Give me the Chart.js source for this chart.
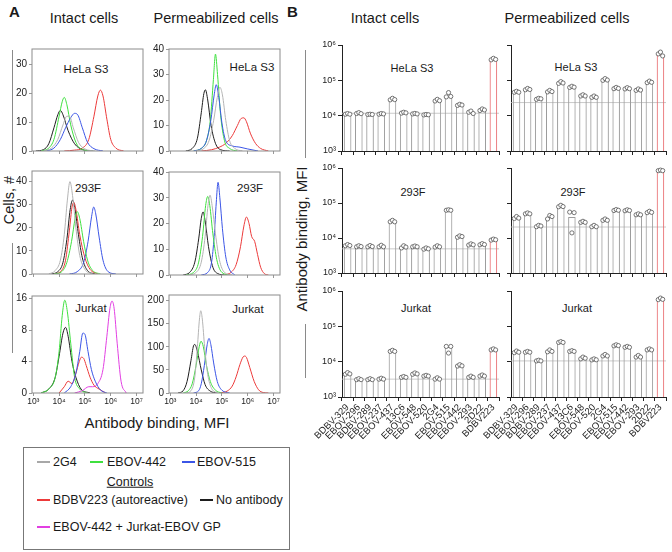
<!DOCTYPE html>
<html>
<head>
<meta charset="utf-8">
<script src="https://cdn.jsdelivr.net/npm/chart.js@4.4.1/dist/chart.umd.min.js"></script>
<style>
body { margin: 0; width: 672px; height: 552px; position: relative; background: #fff; overflow: hidden;
       font-family: "Liberation Sans", Arial, sans-serif; color: #1a1a1a; }
.t { position: absolute; white-space: nowrap; line-height: 1; }
.cc { transform: translate(-50%, -50%); }
.cy { transform: translateY(-50%); }
.rot { transform: translate(-50%, -50%) rotate(-90deg); }
.box { position: absolute; }
.vl { position: absolute; width: 1px; background: #8a8a8a; }
.sw { position: absolute; width: 13px; height: 2px; }
</style>
</head>
<body>

<div class="t" style="left:9px;top:4px;font-size:15px;font-weight:bold">A</div>
<div class="t cc" style="left:84px;top:18px;font-size:14.5px">Intact cells</div>
<div class="t cc" style="left:216px;top:18px;font-size:14.5px">Permeabilized cells</div>
<div class="t" style="left:287px;top:4px;font-size:15px;font-weight:bold">B</div>
<div class="t cc" style="left:385px;top:18px;font-size:14.5px">Intact cells</div>
<div class="t cc" style="left:567px;top:18px;font-size:14.5px">Permeabilized cells</div>

<div class="vl" style="left:12px;top:50px;height:110px"></div>
<div class="vl" style="left:12px;top:243px;height:110px"></div>
<div class="t rot" style="left:9px;top:200px;font-size:14.5px">Cells, #</div>
<div class="t cc" style="left:157px;top:422px;font-size:15px">Antibody binding, MFI</div>

<div class="vl" style="left:305px;top:50px;height:108px"></div>
<div class="vl" style="left:305px;top:324px;height:54px"></div>
<div class="t rot" style="left:301px;top:239px;font-size:15px">Antibody binding, MFI</div>

<div class="t cc" style="left:86px;top:70px;font-size:11.5px">HeLa S3</div>
<div class="t cc" style="left:252px;top:68px;font-size:11.5px">HeLa S3</div>
<div class="t cc" style="left:88px;top:189px;font-size:11.5px">293F</div>
<div class="t cc" style="left:250px;top:189px;font-size:11.5px">293F</div>
<div class="t cc" style="left:91px;top:309px;font-size:11.5px">Jurkat</div>
<div class="t cc" style="left:248px;top:310px;font-size:11.5px">Jurkat</div>

<div class="t cc" style="left:412px;top:68px;font-size:11px">HeLa S3</div>
<div class="t cc" style="left:576px;top:67px;font-size:11px">HeLa S3</div>
<div class="t cc" style="left:413px;top:192px;font-size:11px">293F</div>
<div class="t cc" style="left:573px;top:192px;font-size:11px">293F</div>
<div class="t cc" style="left:416px;top:308px;font-size:11px">Jurkat</div>
<div class="t cc" style="left:577px;top:308px;font-size:11px">Jurkat</div>

<div style="position:absolute;left:23px;top:447px;width:267px;height:103px;border:1px solid #777;box-sizing:border-box"></div>
<div class="sw" style="left:37px;top:461px;background:#a8a8a8"></div>
<div class="t cy" style="left:53px;top:462px;font-size:12.5px">2G4</div>
<div class="sw" style="left:90px;top:461px;background:#3fe03f"></div>
<div class="t cy" style="left:107px;top:462px;font-size:12.5px">EBOV-442</div>
<div class="sw" style="left:182px;top:461px;background:#3b55e6"></div>
<div class="t cy" style="left:197px;top:462px;font-size:12.5px">EBOV-515</div>
<div class="t cc" style="left:130px;top:482px;font-size:12.5px;text-decoration:underline">Controls</div>
<div class="sw" style="left:37px;top:499px;background:#ec3a3a"></div>
<div class="t cy" style="left:53px;top:500px;font-size:12.5px">BDBV223 (autoreactive)</div>
<div class="sw" style="left:200px;top:499px;background:#1e1e1e"></div>
<div class="t cy" style="left:216px;top:500px;font-size:12.5px">No antibody</div>
<div class="sw" style="left:37px;top:526px;background:#e23fe2"></div>
<div class="t cy" style="left:53px;top:527px;font-size:12.5px">EBOV-442 + Jurkat-EBOV GP</div>

<script>
// Etiquetas y ticks
const antibodies = ['BDBV-329', 'EBOV-296', 'BDBV-289', 'EBOV-237', 'EBOV-437', '13C6', 'EBOV-548',
    'EBOV-520', '2G4', 'EBOV-515', 'EBOV-442', 'EBOV-293', '2D22', 'BDBV223'];
const decadeTicks = [3, 4, 5, 6, 7];          // log10 MFI
const mfiTicks = [1e3, 1e4, 1e5, 1e6];
const histRange = [2.95, 7.25];              // log10 MFI shown on histogram axes

// Histogramas: [log10 MFI, células]
const helaIntactNoAb = [[3.1,0],[3.4,0.5],[3.6,2.5],[3.8,8],[3.95,12.5],[4.05,14],[4.15,12.5],[4.35,7],[4.6,2.5],[4.9,0.5],[5.3,0]];
const helaIntact442 = [[3.3,0],[3.6,1],[3.8,4],[4.0,12],[4.12,17],[4.2,18.5],[4.3,16],[4.45,9],[4.65,3],[4.9,0.5],[5.3,0]];
const helaIntact2G4 = [[3.4,0],[3.7,1],[3.95,4],[4.15,9],[4.3,12],[4.4,12],[4.55,8],[4.75,3],[5.0,0.7],[5.4,0]];
const helaIntact515 = [[3.5,0],[3.8,1],[4.05,4],[4.25,8],[4.45,11.5],[4.6,13],[4.72,12.5],[4.9,8],[5.1,3],[5.35,0.8],[5.7,0]];
const helaIntact223 = [[4.2,0],[4.6,0.3],[4.9,1],[5.15,4],[5.35,12],[5.5,19],[5.6,21],[5.7,19],[5.85,11],[6.0,4],[6.2,1],[6.5,0]];

const f293Intact2G4 = [[3.6,0],[3.85,1.5],[4.05,6],[4.2,17],[4.32,32],[4.42,40],[4.52,34],[4.65,20],[4.8,8],[5.0,2],[5.3,0]];
const f293IntactNoAb = [[3.7,0],[3.95,1],[4.15,5],[4.3,15],[4.43,28],[4.52,32],[4.62,28],[4.75,17],[4.9,7],[5.1,1.5],[5.4,0]];
const f293Intact223 = [[3.8,0],[4.05,1],[4.25,6],[4.4,19],[4.5,29],[4.57,31],[4.65,28],[4.8,17],[5.0,7],[5.2,2],[5.5,0]];
const f293Intact442 = [[3.8,0],[4.1,1],[4.3,5],[4.48,14],[4.62,24],[4.7,27],[4.8,24],[4.95,14],[5.1,6],[5.3,1.5],[5.6,0]];
const f293Intact515 = [[4.4,0],[4.7,1],[4.95,5],[5.12,14],[5.26,25],[5.34,29],[5.42,26],[5.55,16],[5.7,6],[5.9,1],[6.2,0]];

const jurkatIntact442 = [[3.3,0],[3.6,0.5],[3.85,2],[4.0,5],[4.12,11],[4.22,15.5],[4.32,12],[4.45,6],[4.6,2],[4.8,0.5],[5.1,0]];
const jurkatIntactNoAb = [[3.3,0],[3.6,0.5],[3.85,2],[4.0,4.5],[4.15,7.5],[4.25,8.5],[4.35,7],[4.5,4],[4.65,2],[4.85,0.5],[5.2,0]];
const jurkatIntact515 = [[4.2,0],[4.45,0.8],[4.65,2.5],[4.8,5],[4.92,7.5],[5.0,7.3],[5.12,5],[5.25,3],[5.4,1.5],[5.6,0.4],[5.85,0]];
const jurkatIntact223 = [[4.0,0],[4.2,0.8],[4.35,1.5],[4.5,1.2],[4.65,2.5],[4.78,4],[4.86,4.4],[4.95,4.3],[5.05,3.5],[5.2,2],[5.35,1],[5.55,0.5],[5.8,0]];
const jurkatIntactGP = [[4.6,0],[4.9,0.3],[5.15,0.8],[5.3,0.8],[5.5,1.2],[5.7,3],[5.85,7],[5.97,13],[6.05,15.2],[6.13,13],[6.25,6],[6.4,1.5],[6.6,0]];

const helaPermNoAb = [[3.6,0],[3.85,1],[4.05,5],[4.2,15],[4.3,22.5],[4.36,24],[4.45,20],[4.58,10],[4.75,3],[4.95,0.5],[5.3,0]];
const helaPerm442 = [[3.9,0],[4.2,1],[4.4,4],[4.55,12],[4.67,28],[4.75,38],[4.83,30],[4.95,14],[5.1,4],[5.3,1],[5.6,0]];
const helaPerm515 = [[3.9,0],[4.2,1],[4.4,4],[4.57,12],[4.7,22],[4.78,26],[4.88,21],[5.0,11],[5.15,4],[5.4,2],[5.7,1.5],[6.0,0.8],[6.4,0]];
const helaPerm2G4 = [[4.0,0],[4.3,1],[4.5,4],[4.68,12],[4.82,21],[4.92,25],[5.02,22],[5.15,12],[5.3,4],[5.5,1],[5.8,0]];
const helaPerm223 = [[4.2,0],[4.6,0.5],[4.9,1.5],[5.15,3],[5.4,6],[5.6,10],[5.75,12.8],[5.85,13],[5.95,11.5],[6.1,7],[6.3,3],[6.5,1],[6.8,0]];

const f293PermNoAb = [[3.5,0],[3.75,1],[3.95,5],[4.1,14],[4.2,22],[4.27,24.5],[4.35,21],[4.48,11],[4.65,3],[4.85,0.5],[5.1,0]];
const f293Perm442 = [[3.6,0],[3.9,1],[4.1,5],[4.25,15],[4.37,27],[4.45,30.5],[4.53,27],[4.65,16],[4.8,6],[5.0,1],[5.3,0]];
const f293Perm2G4 = [[3.7,0],[4.0,1],[4.2,5],[4.35,15],[4.46,27],[4.54,31],[4.62,27],[4.75,16],[4.9,6],[5.1,1],[5.4,0]];
const f293Perm515 = [[4.2,0],[4.45,1],[4.6,5],[4.7,15],[4.78,28],[4.85,36],[4.92,30],[5.02,18],[5.15,7],[5.3,2],[5.5,0]];
const f293Perm223 = [[5.1,0],[5.35,1],[5.55,4],[5.72,11],[5.85,19],[5.95,22.5],[6.05,20],[6.15,15],[6.27,13],[6.38,8],[6.5,3],[6.65,0.5],[6.8,0]];

const jurkatPermNoAb = [[3.3,0],[3.5,5],[3.65,25],[3.8,70],[3.9,102],[3.95,105],[4.05,90],[4.2,50],[4.35,18],[4.55,4],[4.8,0]];
const jurkatPerm442 = [[3.5,0],[3.7,5],[3.85,20],[4.0,60],[4.12,100],[4.19,112],[4.28,100],[4.4,60],[4.55,25],[4.75,6],[5.0,0]];
const jurkatPerm2G4 = [[3.6,0],[3.8,5],[3.95,35],[4.05,100],[4.13,160],[4.18,178],[4.24,160],[4.33,100],[4.45,40],[4.6,10],[4.85,0]];
const jurkatPerm515 = [[3.9,0],[4.1,5],[4.2,20],[4.32,60],[4.43,105],[4.5,118],[4.57,105],[4.68,65],[4.82,25],[5.0,6],[5.3,0]];
const jurkatPerm223 = [[4.9,0],[5.2,4],[5.4,15],[5.55,35],[5.7,62],[5.82,78],[5.88,80],[5.95,77],[6.08,55],[6.25,25],[6.42,7],[6.6,1],[6.8,0]];

// Barras: MFI media por anticuerpo
const helaIntactMfi = [1.12e4, 1.16e4, 1.1e4, 1.12e4, 2.9e4, 1.2e4, 1.14e4, 1.07e4, 2.7e4, 3.6e4, 2.0e4, 1.3e4, 1.45e4, 3.9e5];
const helaPermMfi = [4.7e4, 5.6e4, 3.0e4, 4.9e4, 8.5e4, 6.5e4, 3.7e4, 3.4e4, 1.05e5, 6.0e4, 5.9e4, 5.4e4, 8.9e4, 5.4e5];
const f293IntactMfi = [6.2e3, 5.8e3, 5.8e3, 5.8e3, 3.0e4, 5.6e3, 5.7e3, 5.0e3, 5.7e3, 6.3e4, 1.1e4, 6.5e3, 6.6e3, 9.0e3];
const f293PermMfi = [3.8e4, 5.0e4, 2.2e4, 4.0e4, 8.1e4, 4.0e4, 2.9e4, 2.2e4, 3.3e4, 6.3e4, 6.2e4, 4.7e4, 5.5e4, 8.5e5];
const jurkatIntactMfi = [4.6e3, 3.2e3, 3.2e3, 3.3e3, 2.0e4, 3.7e3, 4.6e3, 4.0e3, 3.3e3, 2.6e4, 7.8e3, 3.7e3, 4.0e3, 2.2e4];
const jurkatPermMfi = [1.9e4, 1.9e4, 1.07e4, 2.0e4, 3.6e4, 2.0e4, 1.27e4, 1.15e4, 1.5e4, 2.9e4, 2.6e4, 1.4e4, 2.2e4, 5.9e5];

// Réplicas (tres por anticuerpo)
const helaIntactReps = [[1.1e4,1.15e4,1.1e4],[1.15e4,1.22e4,1.14e4],[1.08e4,1.1e4,1.08e4],[1.1e4,1.15e4,1.12e4],[2.8e4,3.1e4,2.85e4],[1.18e4,1.25e4,1.2e4],[1.12e4,1.16e4,1.12e4],
    [1.05e4,1.08e4,1.06e4],[2.6e4,2.9e4,2.65e4],[3.4e4,4.5e4,3.5e4],[1.95e4,2.1e4,2.0e4],[1.25e4,1.35e4,1.15e4],[1.4e4,1.55e4,1.45e4],[3.8e5,4.2e5,3.9e5]];
const helaPermReps = [[4.6e4,4.9e4,4.6e4],[5.4e4,5.9e4,5.5e4],[2.9e4,3.1e4,3.0e4],[4.7e4,5.2e4,4.8e4],[8.2e4,9.2e4,8.4e4],[6.3e4,6.8e4,6.4e4],[3.6e4,3.9e4,3.6e4],
    [3.3e4,3.6e4,3.3e4],[1.0e5,1.12e5,1.02e5],[5.8e4,6.3e4,5.9e4],[5.7e4,6.2e4,5.8e4],[5.2e4,5.7e4,5.3e4],[8.6e4,9.5e4,8.8e4],[5.6e5,6.3e5,4.9e5]];
const f293IntactReps = [[6.0e3,6.5e3,6.1e3],[5.6e3,6.0e3,5.7e3],[5.6e3,6.1e3,5.7e3],[5.6e3,6.2e3,5.6e3],[2.9e4,3.2e4,2.9e4],[5.2e3,6.0e3,5.5e3],[5.6e3,5.9e3,5.6e3],
    [4.8e3,5.2e3,4.9e3],[5.5e3,6.0e3,5.6e3],[6.2e4,6.4e4,6.2e4],[1.05e4,1.15e4,1.1e4],[6.3e3,6.8e3,6.4e3],[6.4e3,6.9e3,6.5e3],[8.7e3,9.3e3,8.9e3]];
const f293PermReps = [[3.6e4,4.1e4,3.7e4],[4.9e4,5.2e4,4.9e4],[2.1e4,2.3e4,2.2e4],[3.5e4,4.4e4,4.1e4],[7.8e4,8.6e4,7.9e4],[5.5e4,1.4e4,5.3e4],[2.8e4,3.0e4,2.8e4],
    [2.1e4,2.3e4,2.1e4],[3.2e4,3.5e4,3.2e4],[6.1e4,6.5e4,6.2e4],[6.0e4,6.4e4,6.1e4],[4.6e4,4.9e4,4.6e4],[5.3e4,5.8e4,5.4e4],[8.4e5,8.7e5,8.4e5]];
const jurkatIntactReps = [[4.4e3,4.9e3,4.5e3],[3.1e3,3.3e3,3.1e3],[3.1e3,3.3e3,3.1e3],[3.2e3,3.4e3,3.2e3],[1.95e4,2.1e4,1.95e4],[3.6e3,3.8e3,3.6e3],[4.4e3,4.8e3,4.5e3],
    [3.9e3,4.1e3,3.9e3],[3.2e3,3.5e3,3.2e3],[2.7e4,1.75e4,2.7e4],[7.5e3,8.2e3,7.6e3],[3.6e3,3.9e3,3.6e3],[3.9e3,4.2e3,3.9e3],[2.15e4,2.3e4,2.15e4]];
const jurkatPermReps = [[1.8e4,2.0e4,1.85e4],[1.85e4,1.95e4,1.85e4],[1.05e4,1.1e4,1.05e4],[1.9e4,2.15e4,1.95e4],[3.5e4,3.7e4,3.5e4],[1.95e4,2.05e4,1.95e4],[1.2e4,1.35e4,1.25e4],
    [1.12e4,1.2e4,1.13e4],[1.45e4,1.6e4,1.45e4],[2.8e4,3.0e4,2.85e4],[2.55e4,2.7e4,2.55e4],[1.35e4,1.5e4,1.35e4],[2.15e4,2.3e4,2.15e4],[5.7e5,6.3e5,5.8e5]];

// Línea de referencia horizontal de cada panel
const helaIntactRef = 1.17e4, helaPermRef = 2.35e4;
const f293IntactRef = 4.9e3, f293PermRef = 2.06e4;
const jurkatIntactRef = 3.2e3, jurkatPermRef = 1.05e4;

// Colores
const colNoAb = '#1e1e1e', col2G4 = '#b4b4b4', col442 = '#3fe03f', col515 = '#3b55e6', col223 = '#ec3a3a', colGP = '#e23fe2';
const barGray = '#9c9c9c', barRed = '#e8676b';

const sup = ['⁰', '¹', '²', '³', '⁴', '⁵', '⁶', '⁷'];
const dotShift = [-0.2, 0, 0.2];
const PT = 8, PR = 8;

Chart.defaults.font.family = '"Liberation Sans", Arial, sans-serif';
Chart.defaults.color = '#222';

// Escala 0-4 lineal y log2 por encima (eje de Jurkat intactas)
class PieceScale extends Chart.LinearScale {
    static id = 'piece';
    static defaults = Chart.LinearScale.defaults;
    tf(v) { return v <= 4 ? v / 4 : 1 + Math.log2(v / 4); }
    getPixelForValue(v) {
        return this.getPixelForDecimal((this.tf(v) - this.tf(this.min)) / (this.tf(this.max) - this.tf(this.min)));
    }
    getValueForPixel(p) {
        const f = this.tf(this.min) + this.getDecimalForPixel(p) * (this.tf(this.max) - this.tf(this.min));
        return f <= 1 ? f * 4 : 4 * Math.pow(2, f - 1);
    }
}
Chart.register(PieceScale);

const frame = {
    id: 'frame',
    afterDatasetsDraw(chart) {
        const a = chart.chartArea, ctx = chart.ctx;
        ctx.save();
        ctx.strokeStyle = '#8c8c8c';
        ctx.lineWidth = 1;
        ctx.strokeRect(a.left, a.top, a.right - a.left, a.bottom - a.top);
        ctx.restore();
    }
};

function place(l, t, r, b, yw, xh) {
    const div = document.createElement('div');
    div.className = 'box';
    div.style.left = (l - yw) + 'px';
    div.style.top = (t - PT) + 'px';
    div.style.width = (r - l + yw + PR) + 'px';
    div.style.height = (b - t + PT + xh) + 'px';
    const cv = document.createElement('canvas');
    div.appendChild(cv);
    document.body.appendChild(div);
    return cv;
}

function histogram(l, t, r, b, curves, yMax, yTicks, showX, yType) {
    const yw = 24, xh = showX ? 16 : 4;
    new Chart(place(l, t, r, b, yw, xh), {
        type: 'line',
        data: {
            datasets: curves.map(([pts, color]) => ({
                data: pts, borderColor: color, borderWidth: 1, pointRadius: 0, fill: false,
                cubicInterpolationMode: 'monotone'
            }))
        },
        options: {
            responsive: true, maintainAspectRatio: false, animation: false, events: [],
            layout: { padding: { top: PT, right: PR, left: 0, bottom: 0 } },
            plugins: { legend: { display: false }, tooltip: { enabled: false } },
            scales: {
                x: {
                    type: 'linear', min: histRange[0], max: histRange[1],
                    afterBuildTicks: s => { s.ticks = decadeTicks.map(v => ({ value: v })); },
                    afterFit: s => { s.height = xh; s.paddingLeft = 0; s.paddingRight = 0; },
                    ticks: { display: showX, callback: v => '10' + sup[v], font: { size: 8.5 }, padding: 1, maxRotation: 0 },
                    grid: { drawOnChartArea: false, tickLength: 3, color: '#999' },
                    border: { display: false }
                },
                y: {
                    type: yType || 'linear', min: 0, max: yMax,
                    afterBuildTicks: s => { s.ticks = yTicks.map(v => ({ value: v })); },
                    afterFit: s => { s.width = yw; s.paddingTop = 0; s.paddingBottom = 0; },
                    ticks: { callback: v => v, font: { size: 10 }, padding: 2 },
                    grid: { drawOnChartArea: false, tickLength: 3, color: '#999' },
                    border: { display: false }
                }
            }
        },
        plugins: [frame]
    });
}

function barPanel(l, t, r, b, means, reps, ref, showX, showY) {
    const yw = 28, xh = showX ? 60 : 8;
    // Línea de referencia y puntos de réplicas, posicionados con las escalas del gráfico
    const marks = {
        id: 'marks',
        beforeDatasetsDraw(chart) {
            const a = chart.chartArea, ctx = chart.ctx;
            const y = chart.scales.y.getPixelForValue(ref);
            ctx.save();
            ctx.strokeStyle = '#bdbdbd';
            ctx.lineWidth = 0.8;
            ctx.beginPath();
            ctx.moveTo(a.left, y);
            ctx.lineTo(a.right, y);
            ctx.stroke();
            ctx.restore();
        },
        afterDatasetsDraw(chart) {
            const xs = chart.scales.x, ys = chart.scales.y, ctx = chart.ctx;
            const step = xs.width / reps.length;
            ctx.save();
            ctx.strokeStyle = '#555';
            ctx.fillStyle = '#fff';
            ctx.lineWidth = 0.8;
            reps.forEach((trip, i) => trip.forEach((v, k) => {
                ctx.beginPath();
                ctx.arc(xs.getPixelForValue(i) + dotShift[k] * step, ys.getPixelForValue(v), 2.1, 0, 2 * Math.PI);
                ctx.fill();
                ctx.stroke();
            }));
            ctx.restore();
        }
    };
    new Chart(place(l, t, r, b, yw, xh), {
        type: 'bar',
        data: {
            labels: antibodies,
            datasets: [{
                data: means, borderWidth: 1,
                borderColor: antibodies.map(a => a === 'BDBV223' ? barRed : barGray),
                backgroundColor: 'rgba(255,255,255,0)',
                barPercentage: 0.68, categoryPercentage: 1
            }]
        },
        options: {
            responsive: true, maintainAspectRatio: false, animation: false, events: [],
            layout: { padding: { top: PT, right: PR, left: 0, bottom: 0 } },
            plugins: { legend: { display: false }, tooltip: { enabled: false } },
            scales: {
                x: {
                    afterFit: s => { s.height = xh; s.paddingLeft = 0; s.paddingRight = 0; },
                    ticks: { display: showX, font: { size: 9.5 }, minRotation: 45, maxRotation: 45, autoSkip: false, padding: 1 },
                    grid: { drawOnChartArea: false, tickLength: 4, color: '#222' },
                    border: { color: '#222', width: 1 }
                },
                y: {
                    type: 'logarithmic', min: mfiTicks[0], max: mfiTicks[mfiTicks.length - 1],
                    afterBuildTicks: s => { s.ticks = mfiTicks.map(v => ({ value: v })); },
                    afterFit: s => { s.width = yw; s.paddingTop = 0; s.paddingBottom = 0; },
                    ticks: { display: showY, callback: v => '10' + sup[Math.round(Math.log10(v))], font: { size: 9 }, padding: 2 },
                    grid: { drawOnChartArea: false, tickLength: 4, color: '#222' },
                    border: { color: '#222', width: 1 }
                }
            }
        },
        plugins: [marks]
    });
}

// Panel A: histogramas
histogram(32, 49, 143, 151, [[helaIntact2G4, col2G4], [helaIntact515, col515], [helaIntact442, col442],
    [helaIntactNoAb, colNoAb], [helaIntact223, col223]], 35.2, [0, 10, 20, 30], false);
histogram(32, 171, 143, 274, [[f293Intact2G4, col2G4], [f293Intact442, col442], [f293Intact515, col515],
    [f293Intact223, col223], [f293IntactNoAb, colNoAb]], 44.6, [0, 10, 20, 30, 40], false);
histogram(32, 296, 143, 393, [[jurkatIntact515, col515], [jurkatIntact223, col223], [jurkatIntactGP, colGP],
    [jurkatIntact442, col442], [jurkatIntactNoAb, colNoAb]], 17, [0, 4, 8, 16], true, 'piece');

histogram(169, 49, 280, 151, [[helaPerm2G4, col2G4], [helaPerm515, col515], [helaPerm442, col442],
    [helaPermNoAb, colNoAb], [helaPerm223, col223]], 40, [0, 10, 20, 30, 40], false);
histogram(169, 172, 280, 275, [[f293Perm2G4, col2G4], [f293Perm442, col442], [f293Perm515, col515],
    [f293PermNoAb, colNoAb], [f293Perm223, col223]], 40, [0, 10, 20, 30, 40], false);
histogram(169, 295, 280, 393, [[jurkatPerm2G4, col2G4], [jurkatPerm442, col442], [jurkatPerm515, col515],
    [jurkatPermNoAb, colNoAb], [jurkatPerm223, col223]], 212, [0, 50, 100, 150, 200], true);

// Panel B: barras
barPanel(342, 45, 499, 151, helaIntactMfi, helaIntactReps, helaIntactRef, false, true);
barPanel(342, 168, 499, 273, f293IntactMfi, f293IntactReps, f293IntactRef, false, true);
barPanel(342, 291, 499, 397, jurkatIntactMfi, jurkatIntactReps, jurkatIntactRef, true, true);
barPanel(511, 45, 666, 151, helaPermMfi, helaPermReps, helaPermRef, false, false);
barPanel(511, 168, 666, 273, f293PermMfi, f293PermReps, f293PermRef, false, false);
barPanel(511, 291, 666, 397, jurkatPermMfi, jurkatPermReps, jurkatPermRef, true, false);
</script>
</body>
</html>
